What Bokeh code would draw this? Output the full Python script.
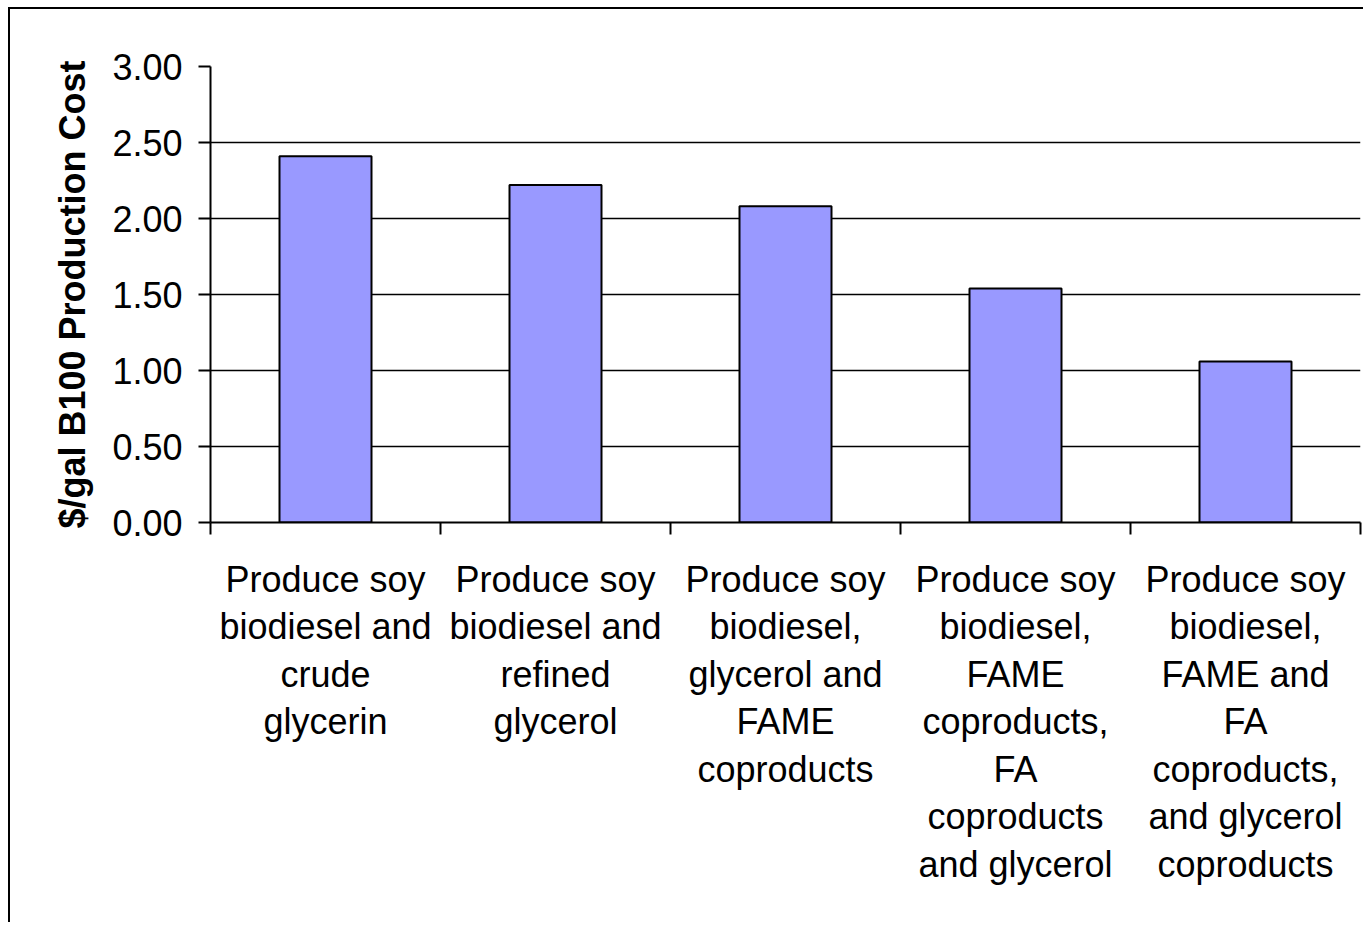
from bokeh.plotting import figure
from bokeh.models import Range1d, FixedTicker, NumeralTickFormatter
from bokeh.embed import file_html
from bokeh.resources import INLINE

categories = [
    "Produce soy\nbiodiesel and\ncrude\nglycerin",
    "Produce soy\nbiodiesel and\nrefined\nglycerol",
    "Produce soy\nbiodiesel,\nglycerol and\nFAME\ncoproducts",
    "Produce soy\nbiodiesel,\nFAME\ncoproducts,\nFA\ncoproducts\nand glycerol",
    "Produce soy\nbiodiesel,\nFAME and\nFA\ncoproducts,\nand glycerol\ncoproducts",
]
costs = [2.41, 2.22, 2.08, 1.54, 1.06]
y_ticks = [0.0, 0.5, 1.0, 1.5, 2.0, 2.5, 3.0]
y_title = "$/gal B100 Production Cost"

FONT = "Liberation Sans"
n = len(categories)
centers = [i + 0.5 for i in range(n)]
bounds = [float(i) for i in range(n + 1)]

p = figure(width=1355, height=915, output_backend="svg", toolbar_location=None,
           x_range=Range1d(0, n), y_range=Range1d(0, 3.0),
           min_border_left=200, min_border_right=5, min_border_top=57,
           min_border_bottom=402)
p.styles = {"border-top": "2px solid black", "border-left": "2px solid black",
            "margin-top": "7px", "margin-left": "8px"}
p.outline_line_color = None
p.background_fill_color = "white"
p.border_fill_color = "white"

p.vbar(x=centers, top=costs, width=0.4, bottom=0,
       fill_color="#9999FF", line_color="black", line_width=2)

# x axis
xa = p.xaxis[0]
xa.ticker = FixedTicker(ticks=centers, minor_ticks=bounds)
xa.major_label_overrides = {c: lab for c, lab in zip(centers, categories)}
xa.major_tick_line_color = None
xa.major_tick_out = 0
xa.major_tick_in = 0
xa.minor_tick_out = 12
xa.minor_tick_in = 0
xa.minor_tick_line_color = "black"
xa.minor_tick_line_width = 2
xa.axis_line_color = "black"
xa.axis_line_width = 2
xa.major_label_text_font = FONT
xa.major_label_text_font_size = "36px"
xa.major_label_text_color = "black"
xa.major_label_text_line_height = 1.16
xa.major_label_standoff = 24
xa.major_label_orientation = "horizontal"

# y axis
ya = p.yaxis[0]
ya.ticker = FixedTicker(ticks=y_ticks)
ya.formatter = NumeralTickFormatter(format="0.00")
ya.major_tick_out = 12
ya.major_tick_in = 0
ya.major_tick_line_width = 2
ya.minor_tick_line_color = None
ya.axis_line_width = 2
ya.major_label_text_font = FONT
ya.major_label_text_font_size = "36px"
ya.major_label_text_color = "black"
ya.major_label_standoff = 16
ya.axis_label = y_title
ya.axis_label_text_font = FONT
ya.axis_label_text_font_size = "36px"
ya.axis_label_text_font_style = "bold"
ya.axis_label_text_color = "black"
ya.axis_label_standoff = 16

p.xgrid.grid_line_color = None
p.ygrid.grid_line_color = "black"
p.ygrid.grid_line_width = 1.5
p.ygrid.ticker = FixedTicker(ticks=y_ticks)

open("out.html", "w").write(file_html(p, INLINE))
